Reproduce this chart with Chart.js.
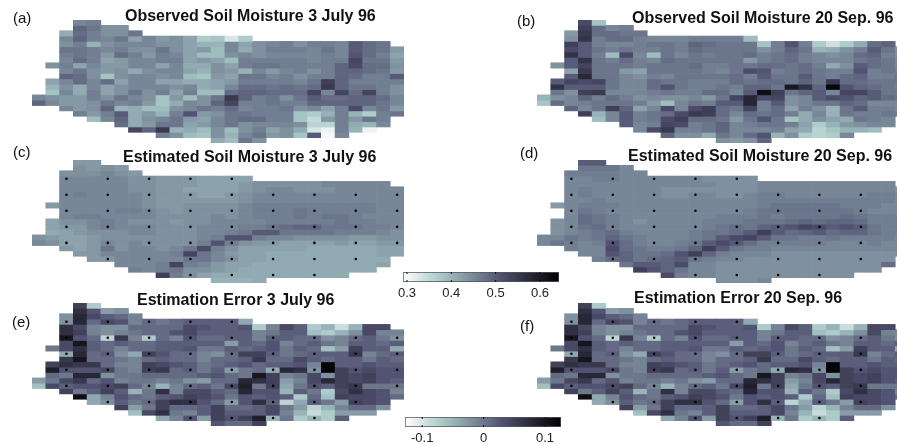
<!DOCTYPE html>
<html>
<head>
<meta charset="utf-8">
<title>Soil moisture maps</title>
<script src="https://cdn.jsdelivr.net/npm/chart.js@4"></script>
<style>
    html, body { margin: 0; padding: 0; width: 897px; height: 444px; overflow: hidden; background: #fff; }
    canvas { position: absolute; }
    canvas.map { filter: blur(0.5px); }
    .txt { position: absolute; white-space: nowrap; font-family: "Liberation Sans", Arial, sans-serif; color: #111; line-height: 16px; }
    .title { font-size: 16px; font-weight: bold; }
    .tag { font-size: 15px; }
</style>
</head>
<body>
<script>
const _ = null;

const columns = [0, 1, 2, 3, 4, 5, 6, 7, 8, 9, 10, 11, 12, 13, 14, 15, 16, 17, 18, 19, 20, 21, 22, 23, 24, 25, 26];

// soil moisture in percent, one list per grid row, _ is outside the watershed
const observedJuly = [
    [_,_,_,45,46],
    [_,_,_,49,47,44,44],
    [_,_,41,48,46,44,44,47],
    [_,_,45,49,46,45,47,42,45,43,44,42,37,38,33,37],
    [_,_,44,46,40,44,45,45,45,44,44,42,40,40,45,42,44,45,46,44,46,46,45,50,48,47],
    [_,_,47,47,46,45,46,44,44,47,44,42,43,39,45,41,44,46,46,46,45,47,45,50,48,47,43],
    [_,_,46,47,46,43,48,46,43,46,45,42,39,39,44,45,44,45,45,45,45,46,45,51,48,46,42],
    [_,_,45,48,46,42,43,45,45,46,46,42,43,42,39,46,46,46,46,46,45,46,46,53,47,47,43],
    [_,44,46,42,45,43,43,45,45,42,45,41,41,44,42,46,47,47,46,46,46,46,49,52,48,48,44],
    [_,_,45,47,44,43,44,41,44,45,45,42,40,44,43,40,45,43,45,46,44,46,49,49,48,47,43],
    [_,_,49,48,44,38,44,45,45,44,45,39,38,43,42,47,47,45,46,44,46,46,49,48,46,46,50],
    [_,42,45,48,45,48,42,45,45,42,42,41,41,42,43,46,46,46,46,45,47,54,49,46,46,46,46],
    [_,40,44,41,45,42,44,45,45,45,44,45,41,42,45,48,48,47,48,47,48,55,49,47,47,46,44],
    [_,38,45,41,46,42,44,47,44,46,42,46,39,39,48,49,49,48,48,48,53,45,53,48,53,46,44],
    [45,44,43,43,46,44,47,45,44,38,43,39,44,47,55,49,46,47,44,47,50,48,48,49,49,48,45],
    [49,45,43,43,44,47,45,46,43,38,41,45,44,49,53,46,46,47,46,46,49,49,49,49,49,47,45],
    [_,_,45,43,44,49,40,41,39,39,44,45,47,46,48,45,46,46,47,44,45,42,46,52,45,47,43],
    [_,_,_,46,43,46,50,41,43,40,46,51,43,44,47,47,46,46,46,38,37,40,46,40,37,46,47],
    [_,_,_,_,39,45,49,41,44,45,47,43,42,45,47,48,48,46,46,38,35,43,46,43,47,46],
    [_,_,_,_,_,_,48,41,43,47,47,42,43,45,47,44,45,45,45,44,36,36,46,41,40,45],
    [_,_,_,_,_,_,_,53,49,55,40,41,39,44,39,44,46,42,44,41,33,31,46,40,31],
    [_,_,_,_,_,_,_,_,_,46,44,39,38,44,40,45,47,43,44,38,50,30,45],
    [_,_,_,_,_,_,_,_,_,_,_,_,_,41,39,47,44]
];

const observedSept = [
    [_,_,_,52,38],
    [_,_,_,54,48,45,46],
    [_,_,43,55,48,48,47,47],
    [_,_,44,56,46,48,48,46,45,45,45,46,46,46,46,39],
    [_,_,54,50,46,45,45,46,47,47,46,49,48,47,47,47,38,46,51,46,37,34,37,41,48,49],
    [_,_,52,50,47,46,47,46,46,47,46,48,47,47,47,47,44,46,49,47,40,41,44,46,50,47,44],
    [_,_,56,50,46,39,52,45,39,47,45,47,46,47,47,48,46,47,48,46,45,44,45,48,49,46,44],
    [_,_,50,56,47,46,48,46,45,48,47,47,47,47,47,43,46,47,48,46,45,45,45,47,48,47,45],
    [_,44,50,53,47,47,47,46,47,47,47,48,46,46,47,47,48,48,47,48,46,41,44,50,48,47,45],
    [_,_,42,55,47,47,43,42,47,47,47,47,46,45,47,52,51,46,47,48,47,46,46,51,46,47,46],
    [_,_,50,58,47,47,45,44,46,45,47,47,47,47,48,46,50,47,47,50,47,46,48,49,46,46,47],
    [_,50,53,52,53,47,45,45,48,47,47,46,46,46,48,47,48,48,47,49,47,55,48,48,47,47,47],
    [_,56,50,50,50,47,45,45,48,51,47,46,46,47,46,49,49,47,60,56,49,63,51,49,48,47,46],
    [_,47,44,54,55,45,45,45,46,47,46,46,48,48,45,50,62,54,47,49,50,45,53,53,50,47,47],
    [40,44,45,49,46,48,46,44,45,44,44,45,43,47,53,58,52,53,44,45,50,52,51,49,50,48,47],
    [38,48,45,46,47,47,47,46,43,39,45,47,46,50,50,58,46,50,44,45,47,47,49,48,45,45,45],
    [_,_,49,45,47,54,49,42,45,52,45,52,54,48,47,53,46,48,42,46,44,40,47,50,46,46,45],
    [_,_,_,54,40,45,50,46,47,48,52,55,54,48,45,48,47,48,46,41,45,40,47,46,46,47,46],
    [_,_,_,_,39,45,50,46,47,52,54,48,48,47,43,47,51,47,38,41,44,42,41,47,46,45],
    [_,_,_,_,_,_,50,45,46,53,52,46,47,49,45,46,47,47,46,42,37,40,43,44,45,45],
    [_,_,_,_,_,_,_,45,52,55,46,46,47,49,45,45,45,46,42,41,36,38,40,40,39],
    [_,_,_,_,_,_,_,_,_,49,44,44,41,47,45,48,51,40,44,37,36,37,45],
    [_,_,_,_,_,_,_,_,_,_,_,_,_,44,43,44,49]
];

const estimatedJuly = [
    [_,_,_,43,43],
    [_,_,_,44,43,44,43],
    [_,_,44,44,44,45,44,43],
    [_,_,45,45,45,45,45,44,44,43,43,43,42,42,42,42],
    [_,_,45,45,45,45,45,44,44,43,43,43,42,42,42,43,44,44,44,44,44,45,45,45,45,45],
    [_,_,45,45,45,45,45,44,44,43,43,42,42,42,42,43,44,45,45,44,44,44,45,45,45,45,45],
    [_,_,45,46,45,45,45,45,44,43,43,43,42,42,43,44,45,45,45,45,45,45,45,45,45,45,45],
    [_,_,45,45,45,45,45,45,44,43,43,43,43,43,43,44,45,45,45,45,45,45,45,45,45,45,45],
    [_,43,45,45,45,45,45,45,44,43,43,44,44,44,44,45,46,46,46,46,46,46,46,46,46,45,45],
    [_,_,45,45,45,45,46,46,45,44,43,44,44,44,44,45,46,46,46,47,46,46,46,46,46,45,45],
    [_,_,45,46,46,45,45,45,45,44,44,44,44,45,44,45,46,46,46,47,46,47,47,46,45,45,45],
    [_,42,44,44,45,46,45,44,44,44,43,44,44,45,45,45,45,46,46,46,46,46,47,46,46,45,45],
    [_,42,43,43,45,46,45,45,45,44,44,44,45,45,45,46,46,47,48,49,49,47,47,47,46,46,45],
    [_,41,42,43,44,44,44,45,45,44,44,44,45,45,46,47,50,50,47,47,47,47,46,46,46,45,44],
    [44,43,42,42,43,44,44,44,44,44,44,44,45,46,51,51,46,45,45,44,44,44,44,43,43,44,44],
    [45,44,42,42,43,45,44,45,44,44,44,44,46,51,46,44,43,43,42,42,42,42,43,42,42,43,43],
    [_,_,43,42,43,47,44,45,45,44,45,47,52,46,44,42,42,42,42,42,41,41,41,41,41,42,42],
    [_,_,_,43,43,45,45,45,45,45,46,53,47,45,43,42,42,41,41,41,41,41,41,41,41,42,42],
    [_,_,_,_,43,43,45,45,45,45,45,47,47,45,44,42,42,41,41,41,41,41,41,41,41,41],
    [_,_,_,_,_,_,45,45,45,46,53,46,45,43,42,42,41,41,41,41,41,41,41,41,41,42],
    [_,_,_,_,_,_,_,46,45,46,47,44,44,43,42,41,41,41,41,41,41,41,41,41,41],
    [_,_,_,_,_,_,_,_,_,54,46,44,42,41,41,41,41,41,41,41,41,41,41],
    [_,_,_,_,_,_,_,_,_,_,_,_,_,40,40,40,41]
];

const estimatedSept = [
    [_,_,_,50,50],
    [_,_,_,47,47,47,45],
    [_,_,46,46,46,46,45,45],
    [_,_,45,45,46,46,45,45,45,45,45,45,44,44,44,44],
    [_,_,45,45,45,45,45,45,45,45,45,45,45,44,44,44,45,45,45,45,45,45,45,45,45,45],
    [_,_,45,46,45,45,45,45,45,44,44,44,44,44,44,44,45,45,45,45,45,45,45,45,45,45,44],
    [_,_,45,46,45,45,45,45,45,44,44,45,45,44,44,45,46,46,45,45,45,45,45,45,46,46,45],
    [_,_,45,45,46,45,45,45,45,45,45,45,45,45,45,45,46,46,46,46,46,46,46,46,46,46,45],
    [_,43,45,46,46,46,45,45,45,45,45,45,45,45,45,45,46,47,47,47,47,47,46,46,46,45,45],
    [_,_,45,47,46,45,45,45,45,45,45,45,45,45,45,46,47,47,47,47,47,47,47,46,45,45,45],
    [_,_,45,48,47,46,45,45,45,45,45,45,45,46,46,46,47,46,47,47,47,47,48,47,46,46,46],
    [_,44,45,48,47,46,45,44,45,45,45,45,46,46,46,47,47,47,48,49,48,49,49,48,46,46,46],
    [_,44,45,47,48,46,45,45,45,45,45,45,46,47,48,47,49,50,51,53,52,50,51,50,47,46,46],
    [_,44,45,46,47,48,46,45,45,45,45,46,47,47,48,50,54,50,48,49,50,48,49,49,47,46,46],
    [45,45,47,46,47,49,47,46,45,45,45,46,47,50,52,53,50,47,47,46,46,47,46,46,46,46,45],
    [45,47,46,45,46,51,48,46,45,45,46,47,50,52,50,48,46,46,46,46,46,45,45,45,46,45,45],
    [_,_,46,45,45,52,48,47,46,46,47,49,54,50,47,46,46,45,45,45,45,45,45,45,45,45,45],
    [_,_,_,45,45,51,49,47,47,48,51,54,49,46,45,45,45,44,44,44,44,44,44,44,44,44,44],
    [_,_,_,_,46,48,49,47,48,49,50,47,46,45,45,44,44,44,44,44,44,44,44,44,44,44],
    [_,_,_,_,_,_,47,50,50,49,52,45,45,44,44,44,44,44,44,44,44,44,44,44,44,48],
    [_,_,_,_,_,_,_,54,51,49,47,45,45,44,44,44,44,44,44,44,44,44,44,44,44],
    [_,_,_,_,_,_,_,_,_,52,46,45,45,44,44,44,44,44,44,44,44,44,44],
    [_,_,_,_,_,_,_,_,_,_,_,_,_,44,44,44,45]
];

// (e) and (f) read the same cell for cell, hundredths of moisture
const estimationError = [
    [_,_,_,5,-7],
    [_,_,_,7,3,-3,-2],
    [_,_,-2,8,4,2,1,-1],
    [_,_,-2,8,1,4,3,-1,1,0,1,2,2,2,2,-4],
    [_,_,7,4,-1,-2,-2,1,1,1,1,4,3,2,2,3,-7,-1,4,2,-7,-5,-9,-5,4,4],
    [_,_,7,5,-1,-2,-1,0,1,1,3,4,2,2,2,2,-1,0,2,2,-6,-7,-5,-2,4,-1,-1],
    [_,_,10,3,1,-8,6,-1,-7,1,-1,3,1,1,2,2,-1,2,2,1,1,-2,-1,1,2,0,-2],
    [_,_,4,10,2,1,2,1,1,2,2,2,2,2,-3,2,1,3,-1,1,2,0,-1,2,2,1,2],
    [_,0,4,7,2,1,-1,1,1,2,2,3,0,0,2,1,2,3,0,2,1,-6,-3,5,2,2,-4],
    [_,_,-4,8,1,2,-2,-4,5,3,1,1,-1,-2,1,5,5,2,0,1,2,2,2,6,-1,1,2],
    [_,_,6,10,1,1,0,-1,1,2,1,1,-1,1,1,2,6,1,1,4,2,1,2,2,0,2,1],
    [_,5,7,6,6,1,-1,-1,5,4,3,2,0,1,2,3,1,2,2,3,-1,12,2,2,3,2,2],
    [_,9,3,3,3,4,0,-1,5,6,1,2,0,2,-3,0,1,-4,8,7,-2,12,5,3,4,3,3],
    [_,1,0,8,8,-2,0,0,1,1,1,1,2,3,1,0,10,5,-1,0,4,-2,5,4,5,3,3],
    [-3,0,4,6,1,3,-1,0,0,-1,0,-2,-3,1,1,8,7,5,-3,-1,4,8,5,4,5,3,2],
    [-6,4,2,3,3,4,5,1,-1,-5,-1,1,2,0,4,9,0,5,-4,0,3,2,5,6,0,0,0],
    [_,_,5,0,2,5,2,-5,0,7,-1,4,4,2,1,8,3,3,-5,2,0,-7,4,7,4,3,-1],
    [_,_,_,11,-4,-1,3,1,0,2,3,5,4,3,0,3,2,3,2,-7,1,-6,5,4,4,3,1],
    [_,_,_,_,-4,-2,2,0,1,5,7,7,3,1,-3,3,7,2,-8,-4,2,0,-3,5,4,3],
    [_,_,_,_,_,_,5,-3,0,5,1,1,2,5,1,1,2,4,0,-3,-8,-5,-1,1,1,-2],
    [_,_,_,_,_,_,_,-6,4,7,0,-1,2,5,2,2,2,4,-1,-5,-9,-7,-3,-3,-3],
    [_,_,_,_,_,_,_,_,_,-4,-1,3,-3,5,3,5,9,-5,0,-7,-5,-7,2],
    [_,_,_,_,_,_,_,_,_,_,_,_,_,3,1,1,5]
];

// black gauge dots: grid row and the columns it carries
const gaugeRows = [3, 6, 9, 12, 15, 18, 21];
const gaugeCols = [
    [2, 5, 8, 11, 14],
    [2, 5, 8, 11, 14, 17, 20, 23, 26],
    [2, 5, 8, 11, 14, 17, 20, 23, 26],
    [2, 5, 8, 11, 14, 17, 20, 23, 26],
    [2, 5, 8, 11, 14, 17, 20, 23, 26],
    [5, 8, 11, 14, 17, 20, 23],
    [11, 14, 17, 20]
];

const moistureTicks = [0.3, 0.4, 0.5, 0.6];
const errorTicks = [-0.1, 0, 0.1];
const moistureRange = [0.291, 0.643];
const errorRange = [-0.128, 0.126];

// reversed bone colormap, low values are white
const boneStops = [[0, [255, 255, 255]], [0.25, [166, 198, 198]], [0.625, [81, 81, 113]], [1, [0, 0, 0]]];

function boneColor(t) {
    t = Math.min(1, Math.max(0, t));
    let i = 0;
    while (i < boneStops.length - 2 && t > boneStops[i + 1][0]) i++;
    const a = boneStops[i], b = boneStops[i + 1];
    const f = (t - a[0]) / (b[0] - a[0]);
    const c = a[1].map((v, k) => Math.round(v + (b[1][k] - v) * f));
    return `rgb(${c[0]},${c[1]},${c[2]})`;
}

Chart.defaults.animation = false;
Chart.defaults.font.family = '"Liberation Sans", Arial, sans-serif';

function addCanvas(left, top, width, height, cls) {
    const c = document.createElement("canvas");
    c.width = width;
    c.height = height;
    c.style.left = left + "px";
    c.style.top = top + "px";
    c.style.width = width + "px";
    c.style.height = height + "px";
    if (cls) c.className = cls;
    document.body.appendChild(c);
    return c;
}

function addText(text, left, centerY, cls) {
    const d = document.createElement("div");
    d.className = "txt " + cls;
    d.textContent = text;
    d.style.left = left + "px";
    d.style.top = (centerY - 8) + "px";
    document.body.appendChild(d);
}

function drawMap(left, top, rows, range, showDots) {
    const datasets = [];
    if (showDots) {
        const dots = [];
        gaugeRows.forEach((r, i) => gaugeCols[i].forEach(c => dots.push({ x: c, y: r + 0.5 })));
        datasets.push({
            type: "scatter",
            data: dots,
            pointRadius: 1.3,
            pointBackgroundColor: "#000",
            pointBorderWidth: 0,
        });
    }
    rows.forEach((row, r) => {
        datasets.push({
            data: row.map(v => (v === null ? null : [r, r + 1])),
            backgroundColor: row.map(v => (v === null ? "rgba(0,0,0,0)" : boneColor((v / 100 - range[0]) / (range[1] - range[0])))),
            barPercentage: 1,
            categoryPercentage: 1,
            borderWidth: 0,
        });
    });
    new Chart(addCanvas(left, top, 372, 123, "map"), {
        type: "bar",
        data: { labels: columns, datasets: datasets },
        options: {
            responsive: false,
            layout: { padding: 0, autoPadding: false },
            plugins: { legend: { display: false }, tooltip: { enabled: false } },
            scales: {
                x: { type: "category", stacked: true, display: false },
                y: { type: "linear", min: 0, max: 23, reverse: true, display: false },
            },
        },
    });
}

function drawColorbar(left, top, width, range, ticks) {
    new Chart(addCanvas(left - 10, top, width + 20, 32), {
        type: "bar",
        data: {
            labels: ["scale"],
            datasets: [{
                data: [[range[0], range[1]]],
                barPercentage: 1,
                categoryPercentage: 1,
                borderWidth: 1,
                borderColor: "#555",
                borderSkipped: false,
                backgroundColor: ctx => {
                    const area = ctx.chart.chartArea;
                    if (!area) return "#888";
                    const g = ctx.chart.ctx.createLinearGradient(area.left, 0, area.right, 0);
                    boneStops.forEach(s => g.addColorStop(s[0], boneColor(s[0])));
                    return g;
                },
            }],
        },
        options: {
            indexAxis: "y",
            responsive: false,
            layout: { padding: { left: 10, right: 10, top: 2, bottom: 0 } },
            plugins: { legend: { display: false }, tooltip: { enabled: false } },
            scales: {
                y: { type: "category", display: false },
                x: {
                    type: "linear",
                    min: range[0],
                    max: range[1],
                    grid: { display: false, drawTicks: false },
                    border: { display: false },
                    afterBuildTicks: s => { s.ticks = ticks.map(v => ({ value: v })); },
                    afterFit: s => { s.height = 20; s.paddingLeft = 0; s.paddingRight = 0; },
                    ticks: {
                        autoSkip: false,
                        maxRotation: 0,
                        padding: 4,
                        color: "#222",
                        font: { size: 13 },
                        callback: v => (v === 0 ? "0" : v.toFixed(1)),
                    },
                },
            },
        },
        plugins: [{
            id: "insideTicks",
            afterDatasetsDraw(chart) {
                const { ctx, chartArea: a, scales } = chart;
                ctx.fillStyle = "#111";
                ticks.forEach(v => {
                    const x = scales.x.getPixelForValue(v);
                    ctx.fillRect(x - 0.5, a.top, 1, 2);
                    ctx.fillRect(x - 0.5, a.bottom - 2, 1, 2);
                });
            },
        }],
    });
}

drawMap(32, 20, observedJuly, moistureRange, false);
drawMap(537, 20, observedSept, moistureRange, false);
drawMap(32, 160, estimatedJuly, moistureRange, true);
drawMap(537, 160, estimatedSept, moistureRange, true);
drawMap(32, 303, estimationError, errorRange, true);
drawMap(537, 303, estimationError, errorRange, true);

drawColorbar(403, 270, 156, moistureRange, moistureTicks);
drawColorbar(405, 415, 156, errorRange, errorTicks);

addText("(a)", 13, 18, "tag");
addText("(b)", 517, 21, "tag");
addText("(c)", 13, 152, "tag");
addText("(d)", 520, 153, "tag");
addText("(e)", 12, 322, "tag");
addText("(f)", 520, 326, "tag");
addText("Observed Soil Moisture 3 July 96", 125, 16, "title");
addText("Observed Soil Moisture 20 Sep. 96", 632, 18, "title");
addText("Estimated Soil Moisture 3 July 96", 123, 157, "title");
addText("Estimated Soil Moisture 20 Sep. 96", 628, 156, "title");
addText("Estimation Error 3 July 96", 137, 300, "title");
addText("Estimation Error 20 Sep. 96", 634, 298, "title");
</script>
</body>
</html>
